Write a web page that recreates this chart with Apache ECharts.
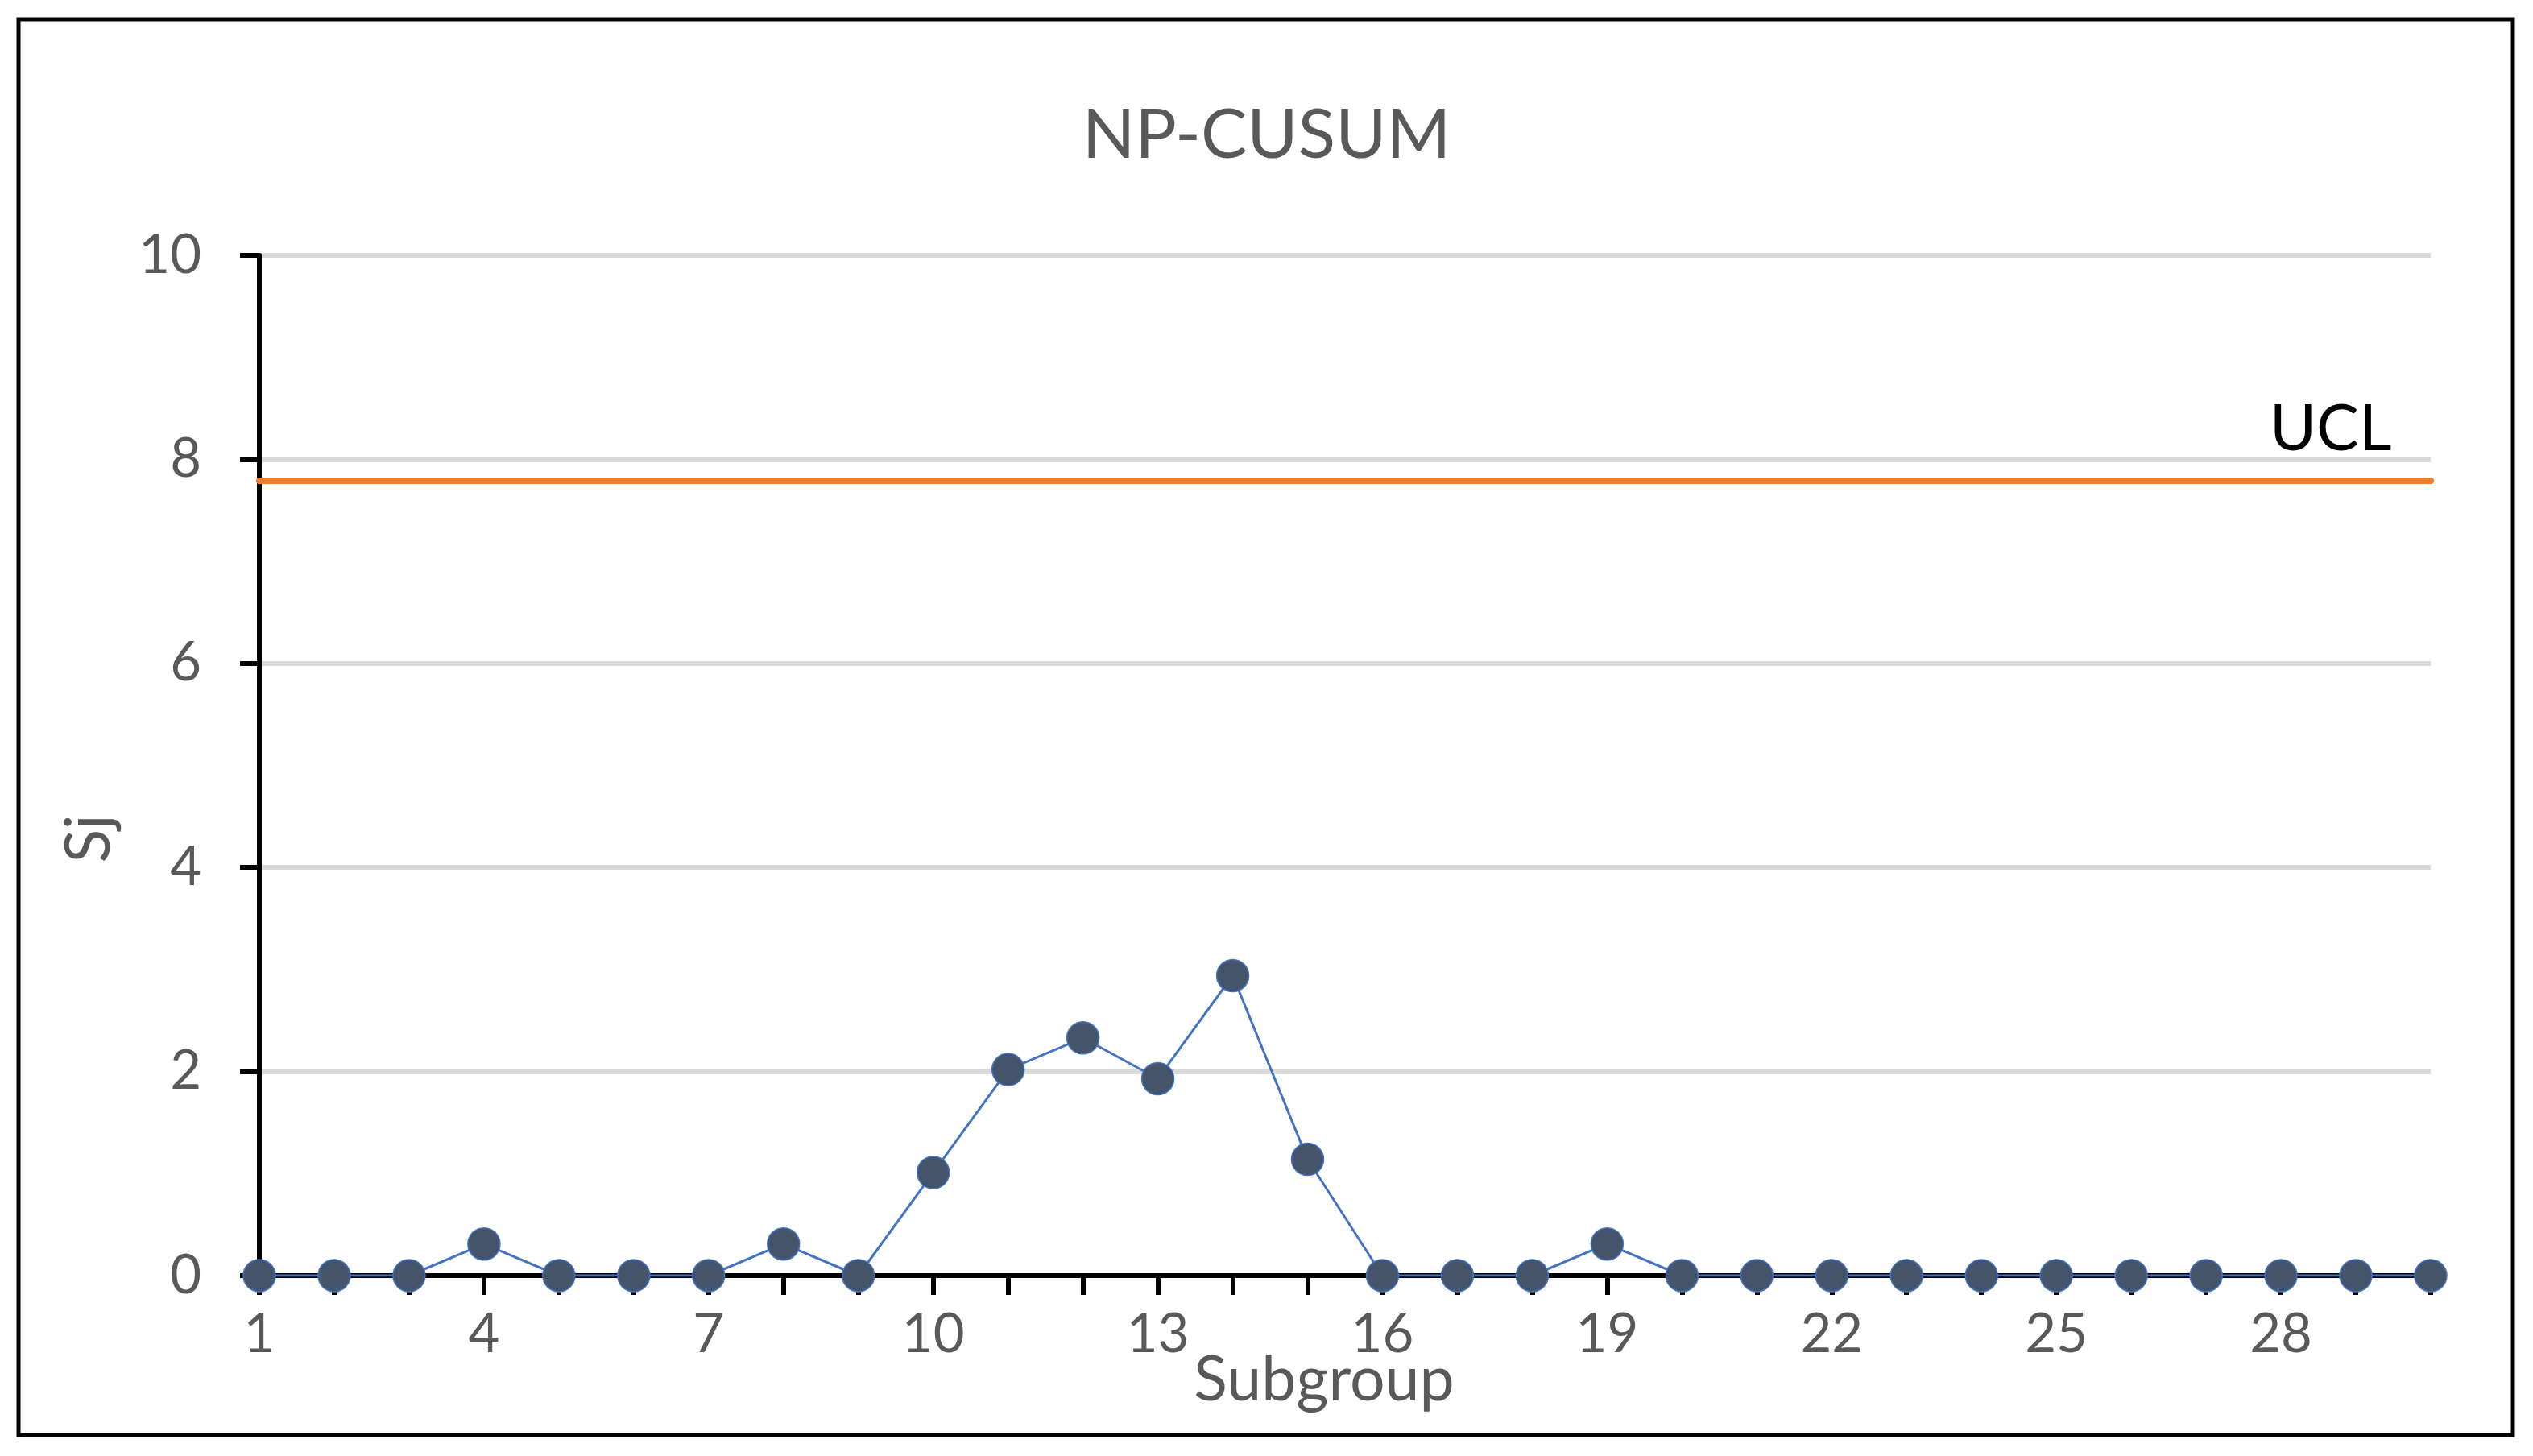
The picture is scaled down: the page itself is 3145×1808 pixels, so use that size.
<!DOCTYPE html>
<html>
<head>
<meta charset="utf-8">
<title>NP-CUSUM</title>
<script src="https://cdn.jsdelivr.net/npm/echarts@6/dist/echarts.min.js"></script>
<style>
html, body { margin: 0; padding: 0; background: #fff; }
#chart { width: 3145px; height: 1808px; }
</style>
</head>
<body>
<div id="chart"></div>
<script>
// subgroup numbers on the x axis
var subgroups = [];
for (var i = 1; i <= 30; i++) subgroups.push(String(i));
// Sj values
var sjValues = [0, 0, 0, 0.31, 0, 0, 0, 0.31, 0, 1.01,
                2.02, 2.33, 1.93, 2.94, 1.14, 0, 0, 0, 0.31, 0,
                0, 0, 0, 0, 0, 0, 0, 0, 0, 0];
// upper control limit, same for every subgroup
var uclValues = subgroups.map(function () { return 7.79; });
var yTicks = { min: 0, max: 10, interval: 2 };

var font = 'Lato, "Open Sans", sans-serif';
var grey = '#595959';

var chart = echarts.init(document.getElementById('chart'));
var option = {
    animation: false,
    backgroundColor: '#fff',
    title: {
        text: 'NP-CUSUM',
        left: 'center',
        top: 125,
        padding: 0,
        textStyle: { fontFamily: font, fontSize: 86, fontWeight: 'normal', color: grey }
    },
    graphic: [{
        type: 'rect',
        shape: { x: 23, y: 24, width: 3097, height: 1758 },
        style: { fill: 'none', stroke: '#000', lineWidth: 5 },
        silent: true
    }],
    grid: { left: 322, right: 127, top: 317, bottom: 224 },
    xAxis: {
        type: 'category',
        data: subgroups,
        boundaryGap: false,
        name: 'Subgroup',
        nameLocation: 'middle',
        nameGap: 92,
        nameMoveOverlap: false,
        nameTextStyle: { fontFamily: font, fontSize: 77, color: grey, padding: [0, 52, 0, 0] },
        axisLine: { lineStyle: { color: '#000', width: 6 } },
        axisTick: { show: true, interval: 0, length: 24, lineStyle: { color: '#000', width: 6 } },
        axisLabel: { interval: 2, margin: 40, fontFamily: font, fontSize: 67, color: grey },
        splitLine: { show: false }
    },
    yAxis: {
        type: 'value',
        min: yTicks.min,
        max: yTicks.max,
        interval: yTicks.interval,
        name: 'Sj',
        nameLocation: 'middle',
        nameGap: 172,
        nameMoveOverlap: false,
        nameRotate: 90,
        nameTextStyle: { fontFamily: font, fontSize: 77, color: grey, padding: [0, 182, 0, 0] },
        axisLine: { show: true, lineStyle: { color: '#000', width: 6 } },
        axisTick: { show: true, length: 24, lineStyle: { color: '#000', width: 6 } },
        axisLabel: { margin: 72, fontFamily: font, fontSize: 67, color: grey },
        splitLine: { show: true, lineStyle: { color: '#D9D9D9', width: 6 } }
    },
    series: [{
        name: 'UCL',
        type: 'line',
        data: uclValues,
        showSymbol: false,
        symbol: 'none',
        silent: true,
        lineStyle: { color: '#ED7D31', width: 8, cap: 'round' },
        endLabel: {
            show: true,
            formatter: 'UCL',
            offset: [-208, -63],
            fontFamily: font,
            fontSize: 79,
            color: '#000'
        },
        z: 3
    }, {
        name: 'Sj',
        type: 'line',
        data: sjValues,
        symbol: 'circle',
        symbolSize: 40,
        showAllSymbol: true,
        lineStyle: { color: '#4472C4', width: 3 },
        itemStyle: { color: '#44546A', borderColor: '#4472C4', borderWidth: 1.5 },
        z: 4
    }]
};
chart.setOption(option);
</script>
</body>
</html>
